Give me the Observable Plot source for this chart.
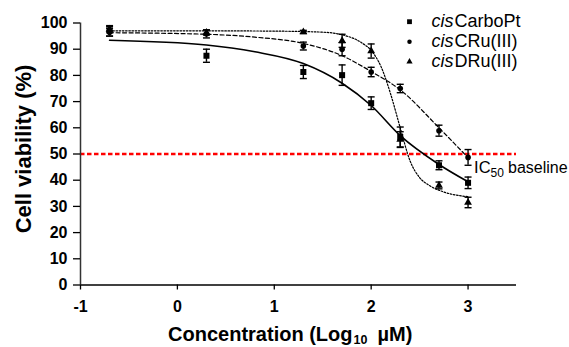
<!DOCTYPE html>
<html><head><meta charset="utf-8">
<script src="https://cdn.jsdelivr.net/npm/d3@7"></script>
<script src="https://cdn.jsdelivr.net/npm/@observablehq/plot@0.6"></script>
<style>body{margin:0;background:#fff}</style>
</head><body><div id="chart"></div>
<script>
// ---- data ----
const conc = [-0.7, 0.3, 1.3, 1.7, 2.0, 2.3, 2.7, 3.0]; // log10 µM

const carboPt    = [97.0, 87.5, 81.3, 80.1, 69.4, 56.5, 45.7, 39.0];
const carboPtErr = [2.0, 2.5, 2.5, 3.9, 2.4, 3.8, 1.7, 2.2];
const cRu        = [96.5, 95.8, 91.2, 90.0, 81.3, 75.0, 58.9, 48.7];
const cRuErr     = [1.5, 1.5, 1.5, 2.5, 1.8, 1.6, 2.1, 3.0];
const dRu        = [97.6, 96.4, 96.6, 93.2, 89.3, 55.5, 38.0, 31.5];
const dRuErr     = [1.0, 1.0, 0.6, 2.5, 2.7, 3.0, 1.3, 2.0];

// fitted curves
const fitCarboPtX = [-0.7, 0.3, 0.8, 1.3, 1.7, 2.0, 2.3, 2.7, 3.0];
const fitCarboPtY = [93.4, 91.6, 89.0, 84.5, 77.0, 68.5, 57.0, 46.0, 39.4];
const fitCRuX     = [-0.7, 0.3, 0.8, 1.3, 1.7, 2.0, 2.3, 2.7, 3.0];
const fitCRuY     = [96.3, 95.7, 94.6, 92.2, 87.5, 81.5, 74.5, 60.0, 48.6];
const fitDRuX     = [-0.7, 0.3, 1.0, 1.5, 1.7, 1.9, 2.0, 2.1, 2.2, 2.3, 2.4, 2.5, 2.6, 2.75, 3.0];
const fitDRuY     = [97.0, 97.0, 96.9, 96.5, 95.5, 92.5, 89.5, 83.5, 73.0, 60.0, 47.5, 41.0, 38.0, 35.5, 33.7];

const legendItalic = ["cis", "cis", "cis"];
const legendRest   = ["CarboPt", "CRu(III)", "DRu(III)"];

const xTicks = [-1, 0, 1, 2, 3];
const yTicks = [0, 10, 20, 30, 40, 50, 60, 70, 80, 90, 100];
const ic50 = 50;

// ---- build ----
const series = [
  {y: carboPt, e: carboPtErr, fx: fitCarboPtX, fy: fitCarboPtY, symbol: "square",   r: 3.4, dash: null,      sw: 1.6},
  {y: cRu,     e: cRuErr,     fx: fitCRuX,     fy: fitCRuY,     symbol: "circle",   r: 2.8, dash: "4,2.5",   sw: 1.2},
  {y: dRu,     e: dRuErr,     fx: fitDRuX,     fy: fitDRuY,     symbol: "triangle", r: 2.9, dash: "1.6,1.6", sw: 1.2}
];

const hcap = {draw(ctx, size) { const w = Math.sqrt(size / Math.PI); ctx.moveTo(-w, 0); ctx.lineTo(w, 0); }};

const marks = [];
// IC50 baseline
marks.push(Plot.ruleY([ic50], {stroke: "#ff0000", strokeWidth: 2.6, strokeDasharray: "4.5,2.5"}));

series.forEach((s, k) => {
  const pts = conc.map((x, i) => ({x, y: s.y[i], lo: s.y[i] - s.e[i], hi: s.y[i] + s.e[i]}));
  const fit = s.fx.map((x, i) => ({x, y: s.fy[i]}));
  marks.push(Plot.line(fit, {x: "x", y: "y", curve: "monotone-x", stroke: "black", strokeWidth: s.sw, strokeDasharray: s.dash}));
  marks.push(Plot.ruleX(pts, {x: "x", y1: "lo", y2: "hi", stroke: "black", strokeWidth: 1.4}));
  marks.push(Plot.dot(pts, {x: "x", y: "hi", symbol: hcap, r: 3.5, stroke: "black", fill: "none", strokeWidth: 1.4}));
  marks.push(Plot.dot(pts, {x: "x", y: "lo", symbol: hcap, r: 3.5, stroke: "black", fill: "none", strokeWidth: 1.4}));
  marks.push(Plot.dot(pts, {x: "x", y: "y", symbol: s.symbol, r: s.r, fill: "black", stroke: "none"}));
  // legend entry
  const dy = -1.3 + 20 * k;
  marks.push(Plot.dot([0], {frameAnchor: "top-left", dx: 329, dy, symbol: s.symbol, r: s.r * 0.8, fill: "black", stroke: "none"}));
  marks.push(Plot.text([legendItalic[k]], {text: d => d, frameAnchor: "top-left", dx: 351, dy, textAnchor: "start", lineAnchor: "middle", fontSize: 18, fontStyle: "italic", fill: "black"}));
  marks.push(Plot.text([legendRest[k]], {text: d => d, frameAnchor: "top-left", dx: 374, dy, textAnchor: "start", lineAnchor: "middle", fontSize: 18, fill: "black"}));
});

// IC50 label
const last = conc[conc.length - 1];
marks.push(Plot.text([{x: last, y: ic50}], {x: "x", y: "y", text: () => "IC", dx: 6, dy: 19, textAnchor: "start", lineAnchor: "bottom", fontSize: 16.5, fill: "black"}));
marks.push(Plot.text([{x: last, y: ic50}], {x: "x", y: "y", text: () => "50", dx: 22.5, dy: 22.5, textAnchor: "start", lineAnchor: "bottom", fontSize: 12, fill: "black"}));
marks.push(Plot.text([{x: last, y: ic50}], {x: "x", y: "y", text: () => "baseline", dx: 40, dy: 19, textAnchor: "start", lineAnchor: "bottom", fontSize: 16, fill: "black"}));

// axes
marks.push(Plot.ruleY([0], {stroke: "black", strokeWidth: 1.5}));
marks.push(Plot.ruleX([-1], {stroke: "#333", strokeWidth: 1.5}));
marks.push(Plot.axisX({ticks: xTicks, tickFormat: d => String(d), tickSize: 5, tickPadding: 11, fontSize: 16, fontWeight: "bold", label: null, stroke: "black", strokeWidth: 1.3}));
marks.push(Plot.axisY({ticks: yTicks, tickFormat: d => String(d), tickSize: 7, tickPadding: 6, fontSize: 16, fontWeight: "bold", label: null, stroke: "black", strokeWidth: 1.3}));

// axis titles
marks.push(Plot.text(["Cell viability (%)"], {text: d => d, frameAnchor: "left", rotate: -90, dx: -57, dy: -5, textAnchor: "middle", lineAnchor: "middle", fontSize: 22, fontWeight: "bold", fill: "black"}));
marks.push(Plot.text(["Concentration (Log"], {text: d => d, frameAnchor: "bottom", dx: 54, dy: 56, textAnchor: "end", lineAnchor: "bottom", fontSize: 20, fontWeight: "bold", fill: "black"}));
marks.push(Plot.text(["10"], {text: d => d, frameAnchor: "bottom", dx: 55, dy: 58.5, textAnchor: "start", lineAnchor: "bottom", fontSize: 12.5, fontWeight: "bold", fill: "black"}));
marks.push(Plot.text(["\u00b5M)"], {text: d => d, frameAnchor: "bottom", dx: 79, dy: 56, textAnchor: "start", lineAnchor: "bottom", fontSize: 20, fontWeight: "bold", fill: "black"}));

const chart = Plot.plot({
  width: 569,
  height: 347,
  marginLeft: 80,
  marginRight: 53,
  marginTop: 22.5,
  marginBottom: 62.5,
  style: {fontFamily: "'Liberation Sans', Arial, Helvetica, sans-serif", background: "white", color: "black"},
  x: {domain: [-1, 3.5], label: null},
  y: {domain: [0, 100], label: null},
  marks
});
document.getElementById("chart").appendChild(chart);
</script>
</body></html>
